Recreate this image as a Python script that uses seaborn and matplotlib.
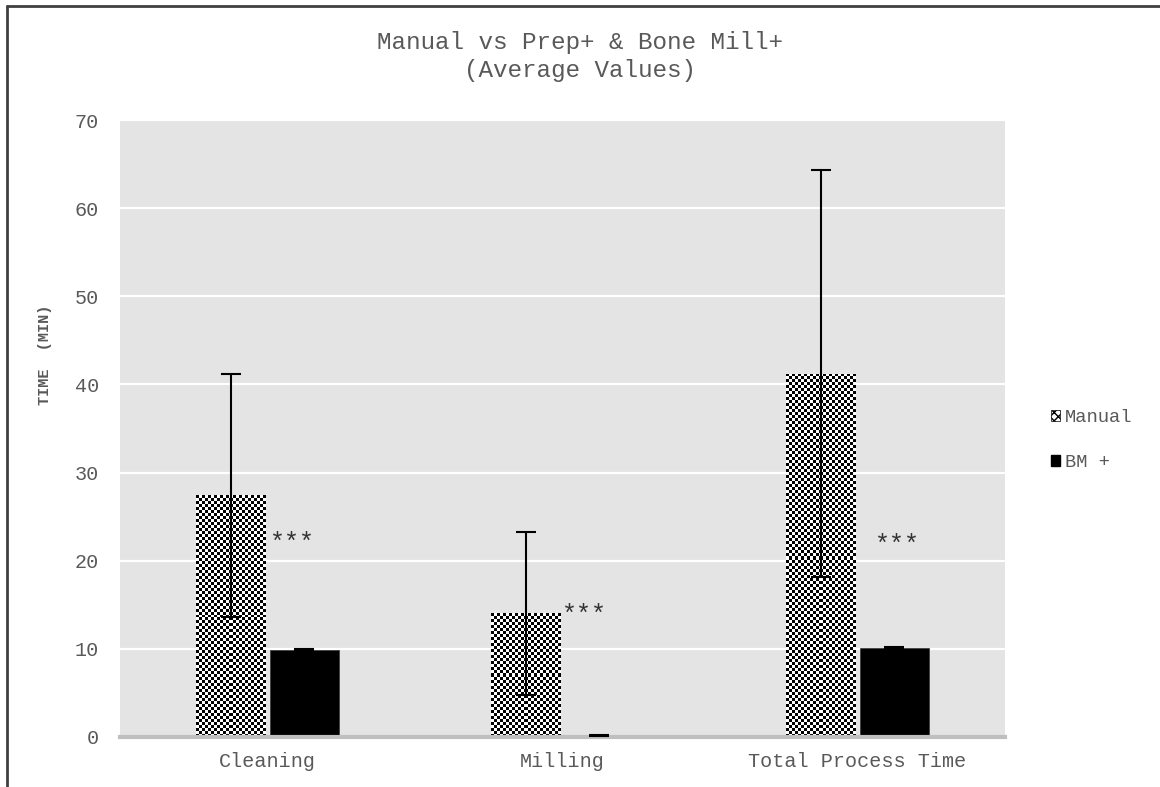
import numpy as np
import pandas as pd
import matplotlib
matplotlib.use("Agg")
import matplotlib.pyplot as plt
from matplotlib.patches import Patch
from matplotlib.lines import Line2D
import seaborn as sns

# dados
categorias = ["Cleaning", "Milling", "Total Process Time"]
grupos = ["Manual", "BM +"]
media_manual = [27.4, 14.05, 41.2]
erro_manual = [13.8, 9.25, 23.1]
media_bm = [9.9, 0.2, 10.1]
erro_bm = [0.1, 0.05, 0.1]
asteriscos = ["***", "***", "***"]
asterisco_y = [22.0, 13.9, 21.8]
asterisco_dx = [0.085, 0.075, 0.135]

df = pd.DataFrame({
    "Categoria": categorias * 2,
    "Grupo": [grupos[0]] * 3 + [grupos[1]] * 3,
    "Tempo": media_manual + media_bm,
})

sns.set_style("darkgrid", {"axes.facecolor": "#e4e4e4", "grid.color": "white"})
plt.rcParams["font.family"] = ["Liberation Mono", "DejaVu Sans Mono"]
cinza = "#595959"

fig = plt.figure(figsize=(11.6, 7.87), dpi=100)
W, H = 1160, 787
ax = fig.add_axes([120 / W, 1 - 737 / H, 885 / W, 617 / H])

sns.barplot(data=df, x="Categoria", y="Tempo", hue="Grupo", order=categorias,
            hue_order=grupos, palette=["white", "black"], width=0.5, gap=0.06,
            edgecolor="#404040", linewidth=0.6, legend=False, ax=ax)
ax.set_xlim(-0.5, 2.5)
ax.set_ylim(0, 70)
ax.set_yticks(range(0, 71, 10))
ax.grid(axis="x", visible=False)
ax.grid(axis="y", color="white", linewidth=1.6)
for s in ["top", "right", "left"]:
    ax.spines[s].set_visible(False)
ax.spines["bottom"].set_visible(True)
ax.spines["bottom"].set_color("#bfbfbf")
ax.spines["bottom"].set_linewidth(3)
ax.tick_params(length=0, colors=cinza, labelsize=14.5)
ax.tick_params(axis="x", pad=11)
ax.tick_params(axis="y", pad=15)

# xadrez nas barras Manual
for barra in ax.containers[0]:
    x0, y0 = barra.get_x(), barra.get_y()
    w, h = barra.get_width(), barra.get_height()
    (px0, py0), (px1, py1) = ax.transData.transform([(x0, y0), (x0 + w, y0 + h)])
    nx = max(1, int(round((px1 - px0) / 3)))
    ny = max(1, int(round((py1 - py0) / 3)))
    xadrez = (np.add.outer(np.arange(ny), np.arange(nx)) % 2).astype(float)
    im = ax.imshow(xadrez, cmap="gray", extent=(x0, x0 + w, y0, y0 + h),
                   interpolation="nearest", aspect="auto", zorder=barra.get_zorder() + 0.1)
    im.set_clip_path(barra)
ax.set_xlim(-0.5, 2.5)
ax.set_ylim(0, 70)

# barras de erro
for cont, err in zip(ax.containers, [erro_manual, erro_bm]):
    xs = [b.get_x() + b.get_width() / 2 for b in cont]
    ys = [b.get_height() for b in cont]
    ax.errorbar(xs, ys, yerr=err, fmt="none", ecolor="black", elinewidth=1.5,
                capsize=7, capthick=1.5, zorder=5)

for i, (txt, y, dx) in enumerate(zip(asteriscos, asterisco_y, asterisco_dx)):
    ax.text(i + dx, y, txt, ha="center", va="center", fontsize=18, color="#333333")

ax.set_xlabel("")
ax.set_ylabel("TIME  (MIN)", fontsize=11, fontweight="bold", color=cinza)
ax.yaxis.set_label_coords(-0.077, 0.62)

fig.suptitle("Manual vs Prep+ & Bone Mill+\n(Average Values)", y=1 - 31 / H,
             fontsize=17.5, color=cinza, linespacing=1.25)

handles = [Patch(facecolor="white", edgecolor="black", hatch="xxxx", linewidth=0.5),
           Patch(facecolor="black", edgecolor="black")]
fig.legend(handles, grupos, loc="center left", bbox_to_anchor=(1034 / W, 1 - 440 / H),
           frameon=False, fontsize=13.5, labelcolor=cinza, handlelength=0.5,
           handleheight=0.5, handletextpad=0.25, labelspacing=1.5)

# moldura da imagem
fig.add_artist(Line2D([7 / W, 7 / W], [0, 1 - 6 / H], color="#404040", linewidth=2,
                      transform=fig.transFigure))
fig.add_artist(Line2D([7 / W, 1], [1 - 6 / H, 1 - 6 / H], color="#404040", linewidth=2,
                      transform=fig.transFigure))

fig.savefig("out.png", dpi=100, facecolor="white")
